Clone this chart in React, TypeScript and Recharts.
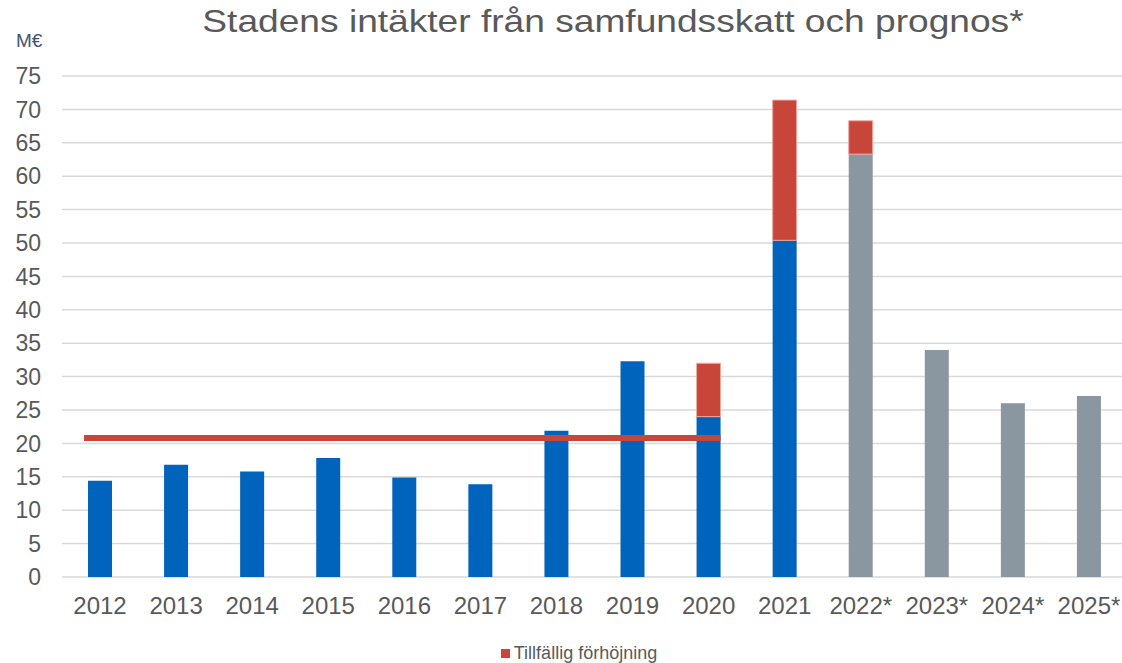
import { BarChart, Bar, XAxis, YAxis, CartesianGrid, ReferenceLine, Legend } from 'recharts'

// år på x-axeln (prognosår markerade med *)
const years = ['2012', '2013', '2014', '2015', '2016', '2017', '2018', '2019', '2020', '2021', '2022*', '2023*', '2024*', '2025*']
// utfall, M€
const actual = [14.4, 16.8, 15.8, 17.8, 14.9, 13.9, 21.9, 32.3, 24.0, 50.4, null, null, null, null]
// prognos, M€
const forecast = [null, null, null, null, null, null, null, null, null, null, 63.3, 34.0, 26.0, 27.1]
// tillfällig förhöjning av utdelningen, M€
const temporary = [null, null, null, null, null, null, null, null, 8.0, 21.0, 5.0, null, null, null]
// medelnivå 2012–2020
const averageLevel = 20.8
const averageFrom = '2012'
const averageTo = '2020'
const yTicks = [0, 5, 10, 15, 20, 25, 30, 35, 40, 45, 50, 55, 60, 65, 70, 75]

const BLUE = '#0064BD'
const GREY = '#8A96A0'
const RED = '#C8453A'
const TEXT = '#595959'

const data = years.map((year, i) => ({
  year,
  actual: actual[i],
  forecast: forecast[i],
  temporary: temporary[i],
}))

// den röda linjen sträcker sig lite utanför staplarnas mitt
const AverageLine = (props: any) => {
  const { x1, y1, x2, y2 } = props
  if (x1 == null) return null
  return <line x1={x1 - 16} y1={y1} x2={x2 + 12} y2={y2} stroke={RED} strokeWidth={6} />
}

const LegendContent = () => (
  <div
    style={{
      height: 30,
      display: 'flex',
      justifyContent: 'center',
      alignItems: 'flex-end',
      paddingLeft: 31,
      fontFamily: '"Liberation Sans", Arial, sans-serif',
      fontSize: 18,
      color: TEXT,
      lineHeight: '20px',
    }}
  >
    <span style={{ display: 'inline-block', width: 9, height: 9, background: RED, marginRight: 4, marginBottom: 5 }} />
    <span>Tillfällig förhöjning</span>
  </div>
)

export default function App() {
  return (
    <div
      style={{
        position: 'absolute',
        left: 0,
        top: 0,
        width: 1122,
        height: 663,
        overflow: 'hidden',
        background: '#fff',
        fontFamily: '"Liberation Sans", Arial, sans-serif',
      }}
    >
      <div
        style={{
          position: 'absolute',
          left: 0,
          top: 5,
          width: 1225,
          textAlign: 'center',
          fontSize: 32,
          lineHeight: 1,
          color: TEXT,
          whiteSpace: 'nowrap',
        }}
      >
        <span style={{ display: 'inline-block', transform: 'scaleX(1.16)' }}>
          Stadens intäkter från samfundsskatt och prognos*
        </span>
      </div>
      <div style={{ position: 'absolute', left: 16, top: 31, fontSize: 19, lineHeight: 1, color: '#44546A' }}>M€</div>

      <BarChart
        width={1140}
        height={663}
        data={data}
        margin={{ top: 76, right: 13, left: 0, bottom: 0 }}
        barSize={24}
      >
        <CartesianGrid vertical={false} stroke="#D9D9D9" strokeWidth={1.5} />
        <XAxis
          dataKey="year"
          axisLine={false}
          tickLine={false}
          tickSize={0}
          tickMargin={20}
          height={56}
          interval={0}
          tick={{ fill: TEXT, fontSize: 24 }}
        />
        <YAxis
          domain={[0, 75]}
          ticks={yTicks}
          axisLine={false}
          tickLine={false}
          tickSize={0}
          tickMargin={21}
          width={62}
          interval={0}
          tick={{ fill: TEXT, fontSize: 23 }}
        />
        <Bar dataKey="actual" stackId="a" fill={BLUE} isAnimationActive={false} />
        <Bar dataKey="forecast" stackId="a" fill={GREY} isAnimationActive={false} />
        <Bar dataKey="temporary" name="Tillfällig förhöjning" stackId="a" fill={RED} stroke="#EFA8A2" strokeWidth={1} isAnimationActive={false} />
        <ReferenceLine
          segment={[
            { x: averageFrom, y: averageLevel },
            { x: averageTo, y: averageLevel },
          ]}
          shape={AverageLine}
        />
        <Legend verticalAlign="bottom" content={<LegendContent />} />
      </BarChart>
    </div>
  )
}
